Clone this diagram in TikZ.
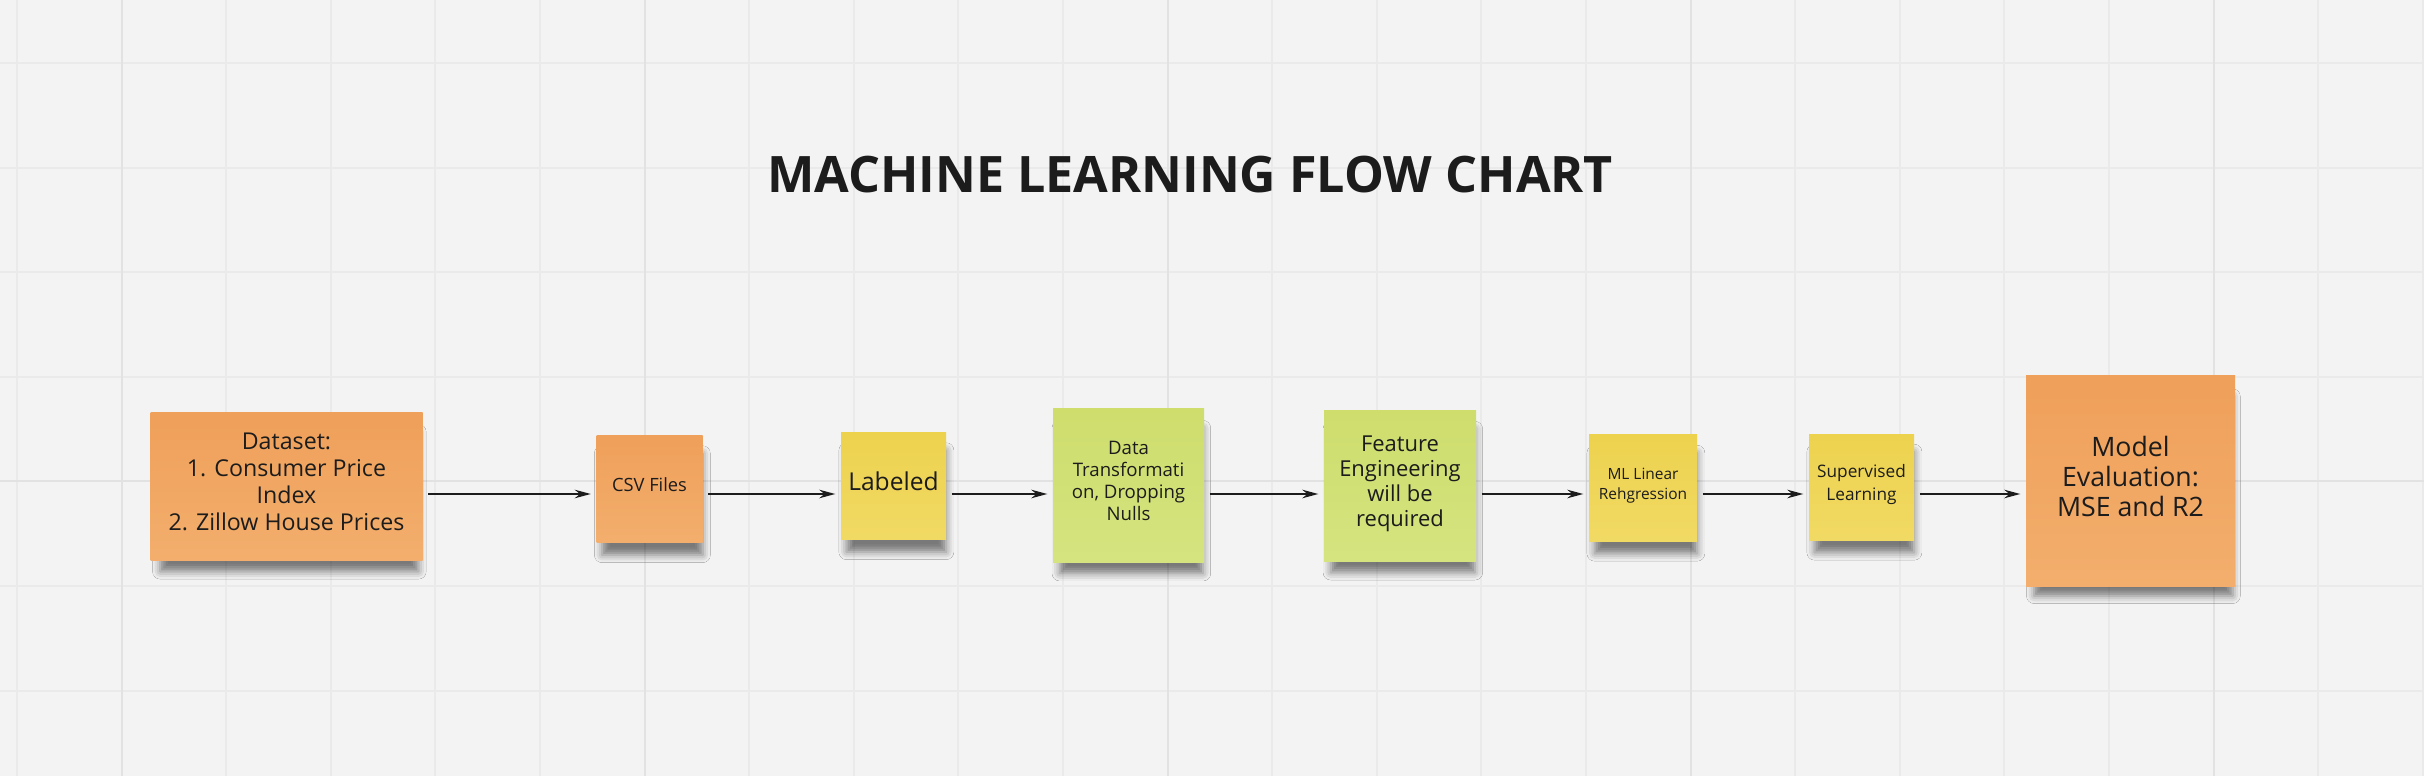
\documentclass[tikz,border=0pt]{standalone}
\usepackage{fontspec}
\setmainfont{Open Sans}
\usetikzlibrary{arrows.meta,shadows.blur}

\definecolor{board}{HTML}{F3F3F3}
\definecolor{gridline}{HTML}{EAEAEA}
\definecolor{gridmajor}{HTML}{E2E2E2}
\definecolor{orangetop}{HTML}{EFA05A}
\definecolor{orangebot}{HTML}{F3AE6D}
\definecolor{yellowtop}{HTML}{EDD24E}
\definecolor{yellowbot}{HTML}{F1DA64}
\definecolor{greentop}{HTML}{CEDD6C}
\definecolor{greenbot}{HTML}{D5E47F}
\definecolor{ink}{HTML}{1C1C1C}

\newcommand{\fsz}[2]{\fontsize{#1pt}{#2pt}\selectfont}

\begin{document}
\begin{tikzpicture}
        \tikzstyle{note}=[rectangle, inner sep=0pt, text=ink, align=center, text depth=0.09cm,
            blur shadow={shadow xshift=0.03cm, shadow yshift=-0.16cm, shadow scale=0.95,
                         shadow blur radius=0.08cm, shadow opacity=50}]
        \tikzstyle{orangenote}=[note, top color=orangetop, bottom color=orangebot]
        \tikzstyle{yellownote}=[note, top color=yellowtop, bottom color=yellowbot]
        \tikzstyle{greennote}=[note, top color=greentop, bottom color=greenbot]
        \tikzstyle{flow}=[draw=ink, line width=0.02cm, -{Stealth[length=0.16cm, width=0.085cm]},
            shorten <=0.05cm, shorten >=0.05cm]

        % board with grid
        \useasboundingbox (0,0) rectangle (24.24,7.76);
        \fill[board] (0,0) rectangle (24.24,7.76);
        \foreach \i in {0,...,23}
            \draw[gridline, line width=0.02cm] ({0.17+1.046*\i},0) -- ++(0,7.76);
        \foreach \j in {0,...,6}
            \draw[gridline, line width=0.02cm] (0,{7.13-1.046*\j}) -- ++(24.24,0);
        \foreach \x in {1.216,6.446,11.676,16.906,22.136}
            \draw[gridmajor, line width=0.02cm] (\x,0) -- ++(0,7.76);
        \draw[gridmajor, line width=0.02cm] (0,2.946) -- ++(24.24,0);

        \node[text=ink, font=\fsz{14.3}{17}\bfseries] (title) at (11.90,6.01) {MACHINE LEARNING FLOW CHART};

        \node[orangenote, minimum width=2.72cm, minimum height=1.47cm, font=\fsz{6.6}{7.7}] (dataset) at (2.865,2.895) {Dataset:\\1. Consumer Price\\Index\\2. Zillow House Prices};
        \node[orangenote, minimum width=1.06cm, minimum height=1.07cm, font=\fsz{5.2}{6.2}] (csv) at (6.495,2.87) {CSV Files};
        \node[yellownote, minimum width=1.05cm, minimum height=1.07cm, font=\fsz{7}{8.2}] (labeled) at (8.935,2.90) {Labeled};
        \node[greennote, minimum width=1.51cm, minimum height=1.53cm, font=\fsz{5.3}{6.2}] (transform) at (11.285,2.905) {Data\\Transformati\\on, Dropping\\Nulls};
        \node[greennote, minimum width=1.52cm, minimum height=1.51cm, font=\fsz{6.25}{7.1}] (feature) at (14.00,2.905) {Feature\\Engineering\\will be\\required};
        \node[yellownote, minimum width=1.08cm, minimum height=1.06cm, font=\fsz{4.4}{5.7}] (linreg) at (16.43,2.88) {ML Linear\\Rehgression};
        \node[yellownote, minimum width=1.05cm, minimum height=1.06cm, font=\fsz{4.9}{6.45}] (supervised) at (18.615,2.89) {Supervised\\Learning};
        \node[orangenote, minimum width=2.09cm, minimum height=2.10cm, font=\fsz{7.6}{8.5}] (evaluation) at (21.305,2.95) {Model\\Evaluation:\\MSE and R2};

        \coordinate (flowline) at (0,2.82);
        \foreach \a/\b in {dataset/csv, csv/labeled, labeled/transform, transform/feature,
                           feature/linreg, linreg/supervised, supervised/evaluation}
            \draw[flow] (\a.east |- flowline) -- (\b.west |- flowline);
\end{tikzpicture}
\end{document}
